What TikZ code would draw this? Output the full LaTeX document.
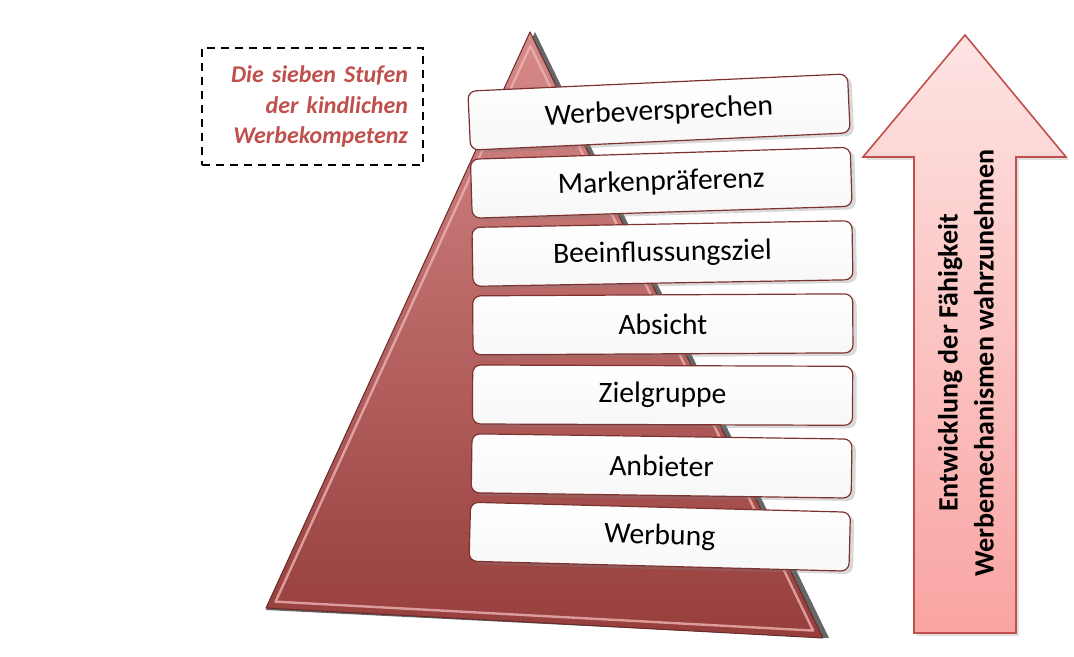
\documentclass[tikz,border=0pt]{standalone}
\usepackage{fontspec}
\setmainfont{Carlito}
\usetikzlibrary{shapes,arrows,positioning,calc,shadows}

\definecolor{stufenrot}{RGB}{192,80,77}
\definecolor{pyrhell}{RGB}{214,138,136}
\definecolor{pyrdunkel}{RGB}{150,62,60}
\definecolor{pyrkante}{RGB}{236,180,178}
\definecolor{boxrand}{RGB}{125,50,48}
\definecolor{pfeiloben}{RGB}{253,228,227}
\definecolor{pfeilunten}{RGB}{249,164,162}

\begin{document}
\begin{tikzpicture}[
    x=0.5pt, y=-0.5pt,
    stufe/.style = {rectangle, draw=boxrand, line width=0.6pt, rounded corners=4pt, minimum width=190pt, minimum height=29.5pt, top color=white, bottom color=black!3, font=\fontsize{14.8}{17}\selectfont, drop shadow={shadow xshift=2pt, shadow yshift=-1.5pt, opacity=0.3}},
    node distance = 35.4pt
]
\useasboundingbox (0,0) rectangle (1074,657);

% Pyramide
\coordinate (spitze) at (530,32);
\coordinate (links) at (266,608);
\coordinate (rechts) at (823,638);
\coordinate (mitte) at (540,426);
\fill[black!80, opacity=0.75] ([xshift=2.5pt]spitze) -- ([xshift=3pt]rechts) -- ([yshift=-1pt]links) -- cycle;
\shade[top color=pyrhell, bottom color=pyrdunkel] (spitze) -- (rechts) -- (links) -- cycle;
\draw[pyrdunkel!70!black, line width=0.5pt, line join=round] (spitze) -- (rechts) -- (links) -- cycle;
\draw[pyrkante, line width=1.2pt, opacity=0.8, line join=round] ($(spitze)!0.035!(mitte)$) -- ($(rechts)!0.035!(mitte)$) -- ($(links)!0.035!(mitte)$) -- cycle;

% Stufen
\node[stufe, rotate=2.6] (versprechen) at (659,112) {Werbeversprechen};
\node[stufe, rotate=1.8, below of=versprechen] (marke) {Markenpräferenz};
\node[stufe, rotate=1.0, below of=marke] (ziel) {Beeinflussungsziel};
\node[stufe, rotate=0.3, below of=ziel] (absicht) {Absicht};
\node[stufe, rotate=-0.2, below of=absicht] (zielgruppe) {Zielgruppe};
\node[stufe, rotate=-0.8, below of=zielgruppe] (anbieter) {Anbieter};
\node[stufe, rotate=-1.5, below of=anbieter] (werbung) {Werbung};

% Pfeil
\draw[draw=stufenrot, line width=0.8pt, line join=miter, top color=pfeiloben, bottom color=pfeilunten, drop shadow={shadow xshift=1.5pt, shadow yshift=-1.5pt, opacity=0.25}] (965,35) -- (1066,157) -- (1016,157) -- (1016,633) -- (914,633) -- (914,157) -- (863,157) -- cycle;
\node[rotate=90, align=center, font=\bfseries\fontsize{14}{18}\selectfont] (entwicklung) at (966,363) {Entwicklung der Fähigkeit\\Werbemechanismen wahrzunehmen};

% Titel
\node[draw, dash pattern=on 4pt off 3pt, line width=0.7pt, minimum width=110.5pt, minimum height=58.5pt, text width=95.5pt, align=right, inner sep=0pt, text=stufenrot, font=\bfseries\itshape\fontsize{12}{15.25}\selectfont] (titel) at (312.5,106.5) {Die sieben Stufen\\der kindlichen\\Werbekompetenz};
\end{tikzpicture}
\end{document}
